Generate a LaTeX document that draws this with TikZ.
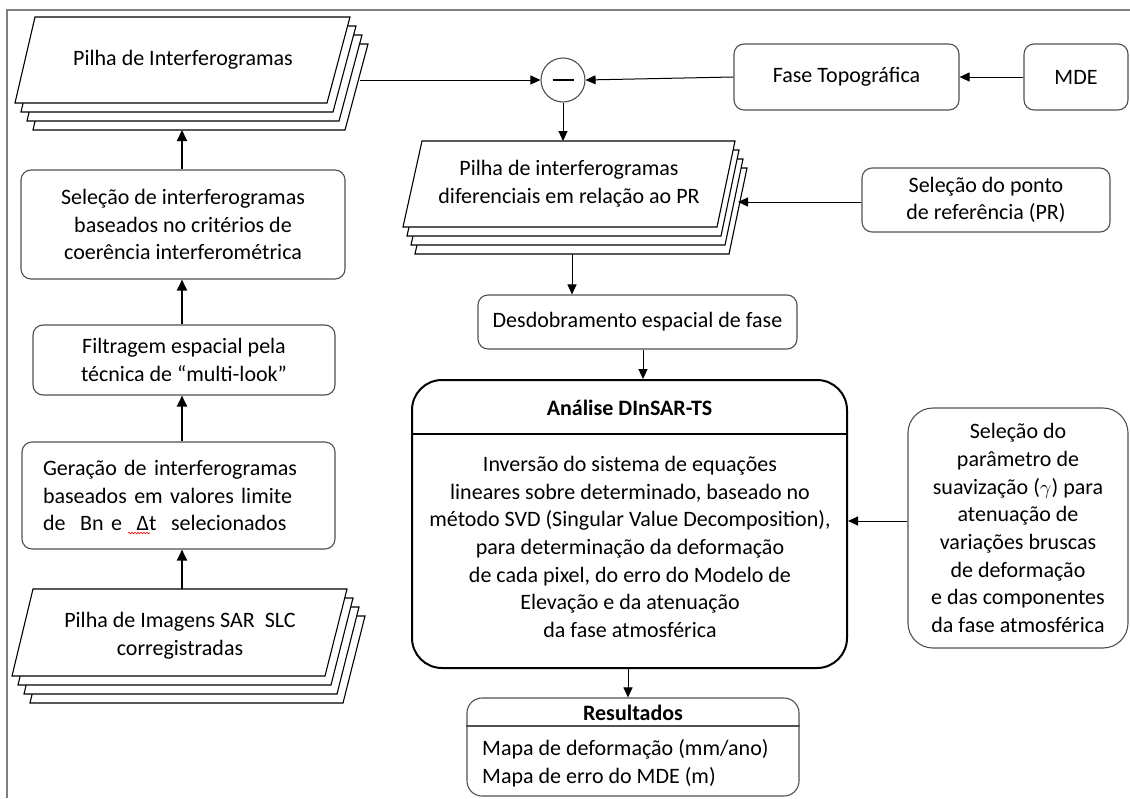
\documentclass[tikz,border=0pt]{standalone}
\usepackage{fontspec}
\setmainfont{Carlito}
\usetikzlibrary{arrows.meta,decorations.pathmorphing}
\definecolor{edge}{HTML}{505050}
\definecolor{framegray}{HTML}{7F7F7F}
\begin{document}
\begin{tikzpicture}[x=1pt,y=-1pt,
  every node/.style={font=\fontsize{22}{27.7}\selectfont, inner sep=0pt},
  boldfont/.style={font=\fontsize{22}{27.7}\selectfont\bfseries},
  box/.style={draw=edge, line width=1.1pt, rounded corners=10pt, fill=white, align=center},
  sheet/.style={draw=black, line width=1.1pt, fill=white, line join=miter},
  link/.style={-{Triangle[length=10pt,width=9pt]}, line width=1pt},
  boldlink/.style={-{Triangle[length=11pt,width=10pt]}, line width=2pt},
]
\useasboundingbox (0,0) rectangle (1130,798);

% page frame (top and left rules)
\draw[framegray, line width=1.5pt] (7,798) -- (7,10) -- (1130,10);

% ---- stacks of sheets ----
% top-left stack: interferograms
\foreach \k in {3,2,1}
  \draw[sheet, shift={(6*\k,9*\k)}] (35,17) -- (350,17) -- (327,103) -- (15,103) -- cycle;
\draw[sheet] (35,17) -- (350,17) -- (327,103) -- (15,103) -- cycle;
\node (pilhaA) at (183,60) {Pilha de Interferogramas};
\coordinate (pilhaAbottom) at (182,130);
\coordinate (pilhaAright) at (360,80);

% middle stack: differential interferograms
\foreach \k in {3,2,1}
  \draw[sheet, shift={(4*\k,9*\k)}] (422,141) -- (735,141) -- (717,227) -- (403,227) -- cycle;
\draw[sheet] (422,141) -- (735,141) -- (717,227) -- (403,227) -- cycle;
\node[align=center] (pilhaB) at (569,184) {Pilha de interferogramas\\diferenciais em relação ao PR};
\coordinate (pilhaBtop) at (563,141);
\coordinate (pilhaBbottom) at (572,254);
\coordinate (pilhaBright) at (738,202);

% bottom-left stack: SLC images
\foreach \k in {3,2,1}
  \draw[sheet, shift={(6*\k,9*\k)}] (33,589) -- (347,589) -- (325,676) -- (12,676) -- cycle;
\draw[sheet] (33,589) -- (347,589) -- (325,676) -- (12,676) -- cycle;
\node[align=center] (pilhaC) at (180,636) {Pilha de Imagens SAR\ \ SLC\\corregistradas};
\coordinate (pilhaCtop) at (182,589);

% ---- left column ----
\node[box, minimum width=324pt, minimum height=109pt] (sel) at (183,224.5)
  {Seleção de interferogramas\\baseados no critérios de\\coerência interferométrica};
\node[box, minimum width=302pt, minimum height=70pt] (filt) at (184,360)
  {Filtragem espacial pela\\técnica de “multi-look”};
\node[box, minimum width=313pt, minimum height=107pt, text width=271pt, inner xsep=21pt, align=left] (gera) at (178.5,495.5)
  {Geração de interferogramas\\baseados em valores limite\\de\ \ Bn e\ \ Δt\ \ selecionados};
\draw[red, line width=0.6pt, decorate, decoration={snake, amplitude=0.8pt, segment length=3pt}] (128,533) -- (150,533);

% ---- top row ----
\node[circle, draw=edge, line width=1.1pt, minimum size=44pt, fill=white] (minus) at (563,80) {};
\draw[line width=2pt] ([xshift=-10.5pt]minus.center) -- ([xshift=10.5pt]minus.center);
\node[box, minimum width=225pt, minimum height=66pt] (fase) at (846.5,77) {Fase Topográfica};
\node[box, minimum width=104pt, minimum height=66pt] (mde) at (1076,77) {MDE};
\node[box, minimum width=248pt, minimum height=64pt] (selpr) at (986,200)
  {Seleção do ponto\\de referência (PR)};

% ---- processing chain ----
\node[box, minimum width=319pt, minimum height=54pt] (desd) at (637.5,322) {Desdobramento espacial de fase};

\node[box, draw=black, line width=2pt, rounded corners=30pt, minimum width=435pt, minimum height=288pt] (ana) at (629.5,524) {};
\draw[line width=1.2pt] (ana.west |- 0,434) -- (ana.east |- 0,434);
\node[boldfont] (anatitle) at (629.5,408) {Análise DInSAR-TS};
\node[align=center] (anabody) at (630,547)
  {Inversão do sistema de equações\\lineares sobre determinado, baseado no\\método SVD (Singular Value Decomposition),\\para determinação da deformação\\de cada pixel, do erro do Modelo de\\Elevação e da atenuação\\da fase atmosférica};

\node[box, rounded corners=25pt, minimum width=220pt, minimum height=240pt] (param) at (1018,528)
  {Seleção do\\parâmetro de\\suavização ($\gamma$) para\\atenuação de\\variações bruscas\\de deformação\\e das componentes\\da fase atmosférica};

\node[box, rounded corners=15pt, minimum width=332pt, minimum height=98pt] (res) at (633,747) {};
\draw[edge, line width=1.1pt] (res.west |- 0,726) -- (res.east |- 0,726);
\node[boldfont] (restitle) at (633,713) {Resultados};
\node[align=left, anchor=west] (resbody) at (482,763)
  {Mapa de deformação (mm/ano)\\Mapa de erro do MDE (m)};

% ---- connectors ----
\draw[link] (pilhaAright) -- (minus.west);
\draw[link] (fase.west) -- (minus.east);
\draw[link] (mde.west) -- (fase.east);
\draw[link] (minus.south) -- (pilhaBtop);
\draw[link] (selpr.west |- pilhaBright) -- (pilhaBright);
\draw[link] (pilhaBbottom) -- (pilhaBbottom |- desd.north);
\draw[link] (desd.south -| 643,0) -- (ana.north -| 643,0);
\draw[link] (param.west |- 0,521) -- (ana.east |- 0,521);
\draw[link] (ana.south -| 628,0) -- (res.north -| 628,0);

\draw[boldlink] (pilhaCtop) -- (pilhaCtop |- gera.south);
\draw[boldlink] (gera.north -| 182,0) -- (filt.south -| 182,0);
\draw[boldlink] (filt.north -| 182,0) -- (sel.south -| 182,0);
\draw[boldlink] (sel.north -| 182,0) -- (pilhaAbottom);
\end{tikzpicture}
\end{document}
